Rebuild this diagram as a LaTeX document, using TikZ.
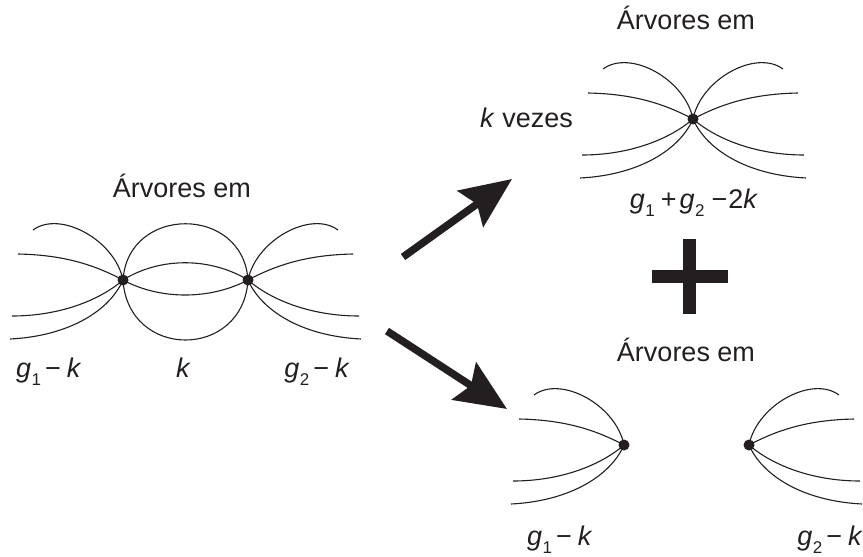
\documentclass[tikz,border=0pt]{standalone}
\usepackage{fontspec}
\setmainfont{Liberation Sans}
\usetikzlibrary{arrows.meta}
\definecolor{ink}{HTML}{231F20}
\newcommand{\gsub}[2]{\textit{#1}\kern0.5pt\raisebox{-0.3em}{\fontsize{17}{17}\selectfont #2}}
\begin{document}
\begin{tikzpicture}[x=1pt,y=-1pt,
  wire/.style={ink, line width=1.1pt},
  dot/.style={circle, fill=ink, inner sep=0pt, minimum size=11pt},
  txt/.style={text=ink, font=\fontsize{27}{32}\selectfont, inner sep=0pt},
  bigarrow/.style={ink, line width=7.5pt, -{Stealth[length=51pt,width=44pt,inset=8pt]}},
  fan/.pic={
    \draw[wire] (-90,-50) .. controls (-63,-70) and (-8,-40) .. (0,0);
    \draw[wire] (-105,-26) .. controls (-53,-25) and (-23,-12) .. (0,0);
    \draw[wire] (-111,36) .. controls (-63,36) and (-23,20) .. (0,0);
    \draw[wire] (-113,59) .. controls (-53,56) and (-13,30) .. (0,0);
  }]
\useasboundingbox (0,0) rectangle (863,557);

% left diagram
\coordinate (L) at (123,280);
\coordinate (R) at (248,280);
\pic at (L) {fan};
\pic[xscale=-1] at (R) {fan};
\draw[wire] (L) .. controls (128,205) and (243,205) .. (R);
\draw[wire] (L) .. controls (160,257) and (210,257) .. (R);
\draw[wire] (L) .. controls (160,300) and (210,300) .. (R);
\draw[wire] (L) .. controls (128,360) and (243,360) .. (R);
\node[dot] (Ld) at (L) {};
\node[dot] (Rd) at (R) {};

% top right diagram
\coordinate (T) at (693,119);
\pic at (T) {fan};
\pic[xscale=-1] at (T) {fan};
\node[dot] (Td) at (T) {};

% bottom right diagrams
\coordinate (B1) at (624,445);
\coordinate (B2) at (749,445);
\pic at (B1) {fan};
\pic[xscale=-1] at (B2) {fan};
\node[dot] (B1d) at (B1) {};
\node[dot] (B2d) at (B2) {};

% arrows
\coordinate (a1s) at (403,257);
\coordinate (a1e) at (512,179);
\coordinate (a2s) at (387,331);
\coordinate (a2e) at (507,409);
\draw[bigarrow] (a1s) -- (a1e);
\draw[bigarrow] (a2s) -- (a2e);

% plus
\fill[ink] (683,239) rectangle (696,314);
\fill[ink] (652,270) rectangle (728,283);

% texts
\node[txt, anchor=base] (t1) at (182,197) {Árvores em};
\node[txt, anchor=base] (t2) at (686,29) {Árvores em};
\node[txt, anchor=base] (t3) at (686,361) {Árvores em};
\node[txt, anchor=base west] (kv) at (480,127) {\textit{k} vezes};
\node[txt, anchor=base] (sum) at (694,208) {\gsub{g}{1}\kern6pt+\kern3pt\gsub{g}{2}\kern7pt−\kern1pt2\textit{k}};
\node[txt, anchor=base west] (la) at (16,377) {\gsub{g}{1}\kern4pt−\kern6pt\textit{k}};
\node[txt, anchor=base] (lk) at (183.5,377) {\textit{k}};
\node[txt, anchor=base east] (lb) at (350,377) {\gsub{g}{2}\kern4pt−\kern6pt\textit{k}};
\node[txt, anchor=base west] (bl) at (527,545) {\gsub{g}{1}\kern4pt−\kern6pt\textit{k}};
\node[txt, anchor=base east] (br) at (863,545) {\gsub{g}{2}\kern4pt−\kern6pt\textit{k}};
\end{tikzpicture}
\end{document}
